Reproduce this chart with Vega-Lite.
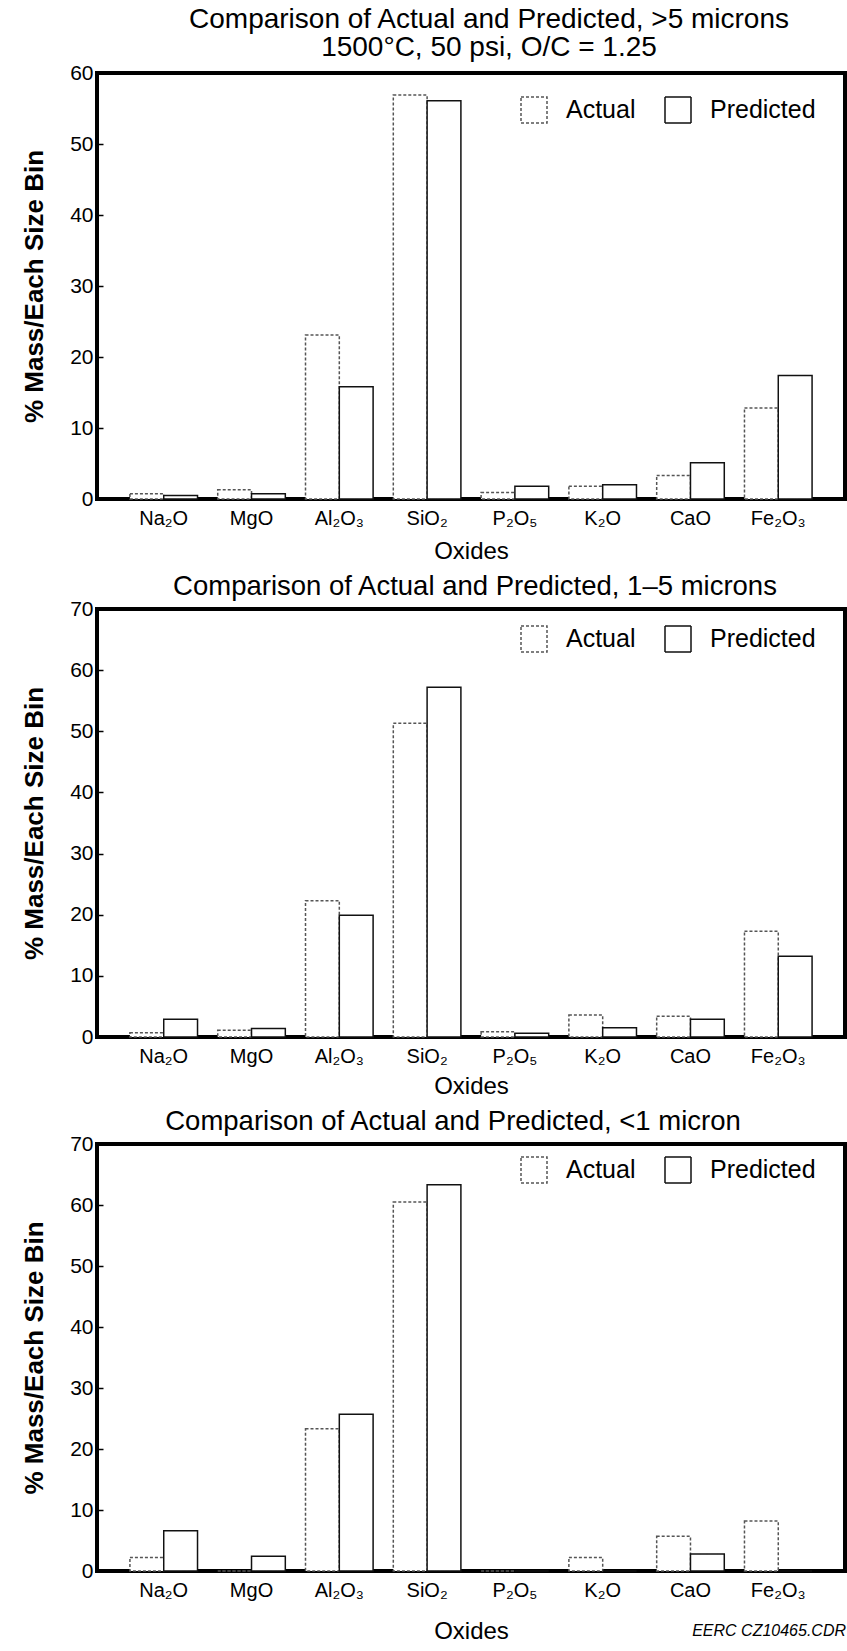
{
  "$schema": "https://vega.github.io/schema/vega-lite/v6.json",
  "background": "white",
  "padding": {"left": 19, "top": 4, "right": 0, "bottom": 0},
  "spacing": 5,
  "resolve": {
    "scale": {"stroke": "independent", "strokeDash": "independent"},
    "legend": {"stroke": "independent", "strokeDash": "independent"}
  },
  "datasets": {
    "p1": [
      {"oxide": "Na₂O", "series": "Actual", "value": 0.75},
      {"oxide": "Na₂O", "series": "Predicted", "value": 0.5},
      {"oxide": "MgO", "series": "Actual", "value": 1.3},
      {"oxide": "MgO", "series": "Predicted", "value": 0.75},
      {"oxide": "Al₂O₃", "series": "Actual", "value": 23.1},
      {"oxide": "Al₂O₃", "series": "Predicted", "value": 15.8},
      {"oxide": "SiO₂", "series": "Actual", "value": 56.9},
      {"oxide": "SiO₂", "series": "Predicted", "value": 56.1},
      {"oxide": "P₂O₅", "series": "Actual", "value": 0.9},
      {"oxide": "P₂O₅", "series": "Predicted", "value": 1.8},
      {"oxide": "K₂O", "series": "Actual", "value": 1.8},
      {"oxide": "K₂O", "series": "Predicted", "value": 2.0},
      {"oxide": "CaO", "series": "Actual", "value": 3.3},
      {"oxide": "CaO", "series": "Predicted", "value": 5.1},
      {"oxide": "Fe₂O₃", "series": "Actual", "value": 12.8},
      {"oxide": "Fe₂O₃", "series": "Predicted", "value": 17.4}
    ],
    "p2": [
      {"oxide": "Na₂O", "series": "Actual", "value": 0.7},
      {"oxide": "Na₂O", "series": "Predicted", "value": 2.9},
      {"oxide": "MgO", "series": "Actual", "value": 1.1},
      {"oxide": "MgO", "series": "Predicted", "value": 1.4},
      {"oxide": "Al₂O₃", "series": "Actual", "value": 22.3},
      {"oxide": "Al₂O₃", "series": "Predicted", "value": 19.9},
      {"oxide": "SiO₂", "series": "Actual", "value": 51.3},
      {"oxide": "SiO₂", "series": "Predicted", "value": 57.2},
      {"oxide": "P₂O₅", "series": "Actual", "value": 0.85},
      {"oxide": "P₂O₅", "series": "Predicted", "value": 0.6},
      {"oxide": "K₂O", "series": "Actual", "value": 3.6},
      {"oxide": "K₂O", "series": "Predicted", "value": 1.5},
      {"oxide": "CaO", "series": "Actual", "value": 3.4},
      {"oxide": "CaO", "series": "Predicted", "value": 2.9},
      {"oxide": "Fe₂O₃", "series": "Actual", "value": 17.3},
      {"oxide": "Fe₂O₃", "series": "Predicted", "value": 13.2}
    ],
    "p3": [
      {"oxide": "Na₂O", "series": "Actual", "value": 2.2},
      {"oxide": "Na₂O", "series": "Predicted", "value": 6.6},
      {"oxide": "MgO", "series": "Actual", "value": 0},
      {"oxide": "MgO", "series": "Predicted", "value": 2.4},
      {"oxide": "Al₂O₃", "series": "Actual", "value": 23.3},
      {"oxide": "Al₂O₃", "series": "Predicted", "value": 25.7},
      {"oxide": "SiO₂", "series": "Actual", "value": 60.5},
      {"oxide": "SiO₂", "series": "Predicted", "value": 63.3},
      {"oxide": "P₂O₅", "series": "Actual", "value": 0},
      {"oxide": "P₂O₅", "series": "Predicted", "value": 0},
      {"oxide": "K₂O", "series": "Actual", "value": 2.2},
      {"oxide": "K₂O", "series": "Predicted", "value": 0},
      {"oxide": "CaO", "series": "Actual", "value": 5.7},
      {"oxide": "CaO", "series": "Predicted", "value": 2.8},
      {"oxide": "Fe₂O₃", "series": "Actual", "value": 8.2},
      {"oxide": "Fe₂O₃", "series": "Predicted", "value": 0}
    ]
  },
  "title": {
    "text": "EERC CZ10465.CDR",
    "orient": "bottom",
    "anchor": "end",
    "fontSize": 16,
    "fontStyle": "italic",
    "fontWeight": "normal",
    "offset": -22,
    "dx": -1
  },
  "vconcat": [
    {
      "title": {"text": ["Comparison of Actual and Predicted, >5 microns", "1500°C, 50 psi, O/C = 1.25"], "offset": 0, "fontSize": 28, "dx": 18},
      "width": 748,
      "height": 426,
      "data": {"name": "p1"},
      "mark": {"type": "bar", "fill": "white", "strokeWidth": 1.5},
      "encoding": {
        "x": {"field": "oxide", "type": "nominal", "title": "Oxides",
              "sort": ["Na₂O", "MgO", "Al₂O₃", "SiO₂", "P₂O₅", "K₂O", "CaO", "Fe₂O₃"],
              "scale": {"paddingInner": 0.23, "paddingOuter": 0.375},
              "axis": {"titlePadding": 11}},
        "xOffset": {"field": "series", "type": "nominal", "sort": ["Actual", "Predicted"], "scale": {"paddingInner": 0, "paddingOuter": 0}},
        "y": {"field": "value", "type": "quantitative", "title": "% Mass/Each Size Bin",
              "scale": {"domain": [0, 60], "nice": false},
              "axis": {"values": [0, 10, 20, 30, 40, 50, 60]}},
        "stroke": {"field": "series", "type": "nominal", "title": null,
                   "scale": {"domain": ["Actual", "Predicted"], "range": ["#555555", "#111111"]},
                   "legend": {"orient": "none", "legendX": 423, "legendY": 23, "direction": "horizontal"}},
        "strokeDash": {"field": "series", "type": "nominal", "title": null,
                       "scale": {"domain": ["Actual", "Predicted"], "range": [[3, 2], [1, 0]]},
                       "legend": {"orient": "none", "legendX": 423, "legendY": 23, "direction": "horizontal"}}
      }
    },
    {
      "title": {"text": "Comparison of Actual and Predicted, 1–5 microns", "offset": -2, "dx": 4},
      "width": 748,
      "height": 428,
      "data": {"name": "p2"},
      "mark": {"type": "bar", "fill": "white", "strokeWidth": 1.5},
      "encoding": {
        "x": {"field": "oxide", "type": "nominal", "title": "Oxides",
              "sort": ["Na₂O", "MgO", "Al₂O₃", "SiO₂", "P₂O₅", "K₂O", "CaO", "Fe₂O₃"],
              "scale": {"paddingInner": 0.23, "paddingOuter": 0.375}},
        "xOffset": {"field": "series", "type": "nominal", "sort": ["Actual", "Predicted"], "scale": {"paddingInner": 0, "paddingOuter": 0}},
        "y": {"field": "value", "type": "quantitative", "title": "% Mass/Each Size Bin",
              "scale": {"domain": [0, 70], "nice": false},
              "axis": {"values": [0, 10, 20, 30, 40, 50, 60, 70]}},
        "stroke": {"field": "series", "type": "nominal", "title": null,
                   "scale": {"domain": ["Actual", "Predicted"], "range": ["#555555", "#111111"]},
                   "legend": {"orient": "none", "legendX": 423, "legendY": 16, "direction": "horizontal"}},
        "strokeDash": {"field": "series", "type": "nominal", "title": null,
                       "scale": {"domain": ["Actual", "Predicted"], "range": [[3, 2], [1, 0]]},
                       "legend": {"orient": "none", "legendX": 423, "legendY": 16, "direction": "horizontal"}}
      }
    },
    {
      "title": {"text": "Comparison of Actual and Predicted, <1 micron", "offset": -2, "dx": -18},
      "width": 748,
      "height": 427,
      "data": {"name": "p3"},
      "mark": {"type": "bar", "fill": "white", "strokeWidth": 1.5},
      "encoding": {
        "x": {"field": "oxide", "type": "nominal", "title": "Oxides",
              "sort": ["Na₂O", "MgO", "Al₂O₃", "SiO₂", "P₂O₅", "K₂O", "CaO", "Fe₂O₃"],
              "scale": {"paddingInner": 0.23, "paddingOuter": 0.375},
              "axis": {"titlePadding": 19}},
        "xOffset": {"field": "series", "type": "nominal", "sort": ["Actual", "Predicted"], "scale": {"paddingInner": 0, "paddingOuter": 0}},
        "y": {"field": "value", "type": "quantitative", "title": "% Mass/Each Size Bin",
              "scale": {"domain": [0, 70], "nice": false},
              "axis": {"values": [0, 10, 20, 30, 40, 50, 60, 70]}},
        "stroke": {"field": "series", "type": "nominal", "title": null,
                   "scale": {"domain": ["Actual", "Predicted"], "range": ["#555555", "#111111"]},
                   "legend": {"orient": "none", "legendX": 423, "legendY": 12, "direction": "horizontal"}},
        "strokeDash": {"field": "series", "type": "nominal", "title": null,
                       "scale": {"domain": ["Actual", "Predicted"], "range": [[3, 2], [1, 0]]},
                       "legend": {"orient": "none", "legendX": 423, "legendY": 12, "direction": "horizontal"}}
      }
    }
  ],
  "config": {
    "font": "Liberation Sans",
    "view": {"stroke": "black", "strokeWidth": 4},
    "title": {"fontSize": 27.5, "fontWeight": "normal", "lineHeight": 28, "color": "black", "anchor": "middle"},
    "axis": {"grid": false, "domain": false, "labelColor": "black", "titleColor": "black"},
    "axisX": {"ticks": false, "labelAngle": 0, "labelFontSize": 20, "labelPadding": 9, "titleFontSize": 24, "titleFontWeight": "normal", "titlePadding": 8},
    "axisY": {"ticks": true, "tickSize": -6, "tickWidth": 1.5, "tickColor": "black", "labelFontSize": 21, "labelPadding": 10, "titleFontSize": 26, "titleFontWeight": "bold", "titlePadding": 22},
    "legend": {"symbolType": "square", "symbolSize": 676, "symbolFillColor": "white", "symbolStrokeWidth": 1.5, "labelFontSize": 25, "labelColor": "black", "labelOffset": 18, "columnPadding": 26, "title": null}
  }
}
